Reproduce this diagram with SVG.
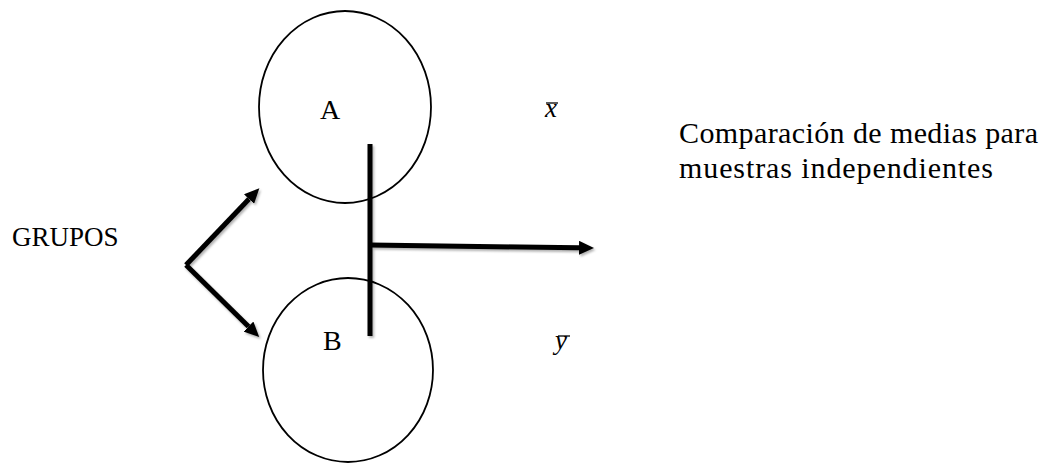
<svg xmlns="http://www.w3.org/2000/svg" width="1050" height="464" viewBox="0 0 1050 464">
<style>
.t{font-family:"Liberation Serif","DejaVu Serif",serif;font-size:28px;fill:#000}
.big{font-size:30px}
.g{font-size:27px}
.m{font-family:"Liberation Serif","DejaVu Serif",serif;font-size:27px;font-style:italic;fill:#000}
.c{fill:none;stroke:#000;stroke-width:1.8}
.l{stroke:#000;stroke-width:5;fill:none}
.bar{stroke:#000;stroke-width:1.3}
</style>
<defs>
<marker id="ah" markerWidth="16" markerHeight="14" refX="0" refY="7" orient="auto" markerUnits="userSpaceOnUse">
<path d="M0,0 L15,7 L0,14 Z" fill="#000"/>
</marker>
<filter id="sh" x="-10%" y="-10%" width="130%" height="130%">
<feDropShadow dx="1.5" dy="2" stdDeviation="1.2" flood-color="#000" flood-opacity="0.3"/>
</filter>
</defs>
<rect width="1050" height="464" fill="#fff"/>
<g id="nodeA">
<ellipse class="c" cx="345" cy="107" rx="86" ry="96"/>
<text class="t" x="320" y="119">A</text>
</g>
<g id="nodeB">
<ellipse class="c" cx="348" cy="370" rx="85" ry="92"/>
<text class="t" x="323" y="350">B</text>
</g>
<g id="grupos">
<text class="t g" x="12" y="246">GRUPOS</text>
</g>
<g id="xbar">
<text class="m" x="545" y="117">x</text>
<line class="bar" x1="546" y1="103" x2="558" y2="103"/>
</g>
<g id="ybar">
<text class="m" x="555" y="349">y</text>
<line class="bar" x1="558" y1="336" x2="570" y2="336"/>
</g>
<g id="label">
<text class="t big" x="679" y="143" textLength="359">Comparación de medias para</text>
<text class="t big" x="679" y="178" textLength="314">muestras independientes</text>
</g>
<g id="connectors" filter="url(#sh)">
<path class="l" d="M186,265 L249,199" marker-end="url(#ah)"/>
<path class="l" d="M186,265 L248.5,326.5" marker-end="url(#ah)"/>
<path class="l" d="M370,144 L370,336"/>
<path class="l" d="M370,245 L579,247.8" stroke-width="4.5" marker-end="url(#ah)"/>
</g>
</svg>
